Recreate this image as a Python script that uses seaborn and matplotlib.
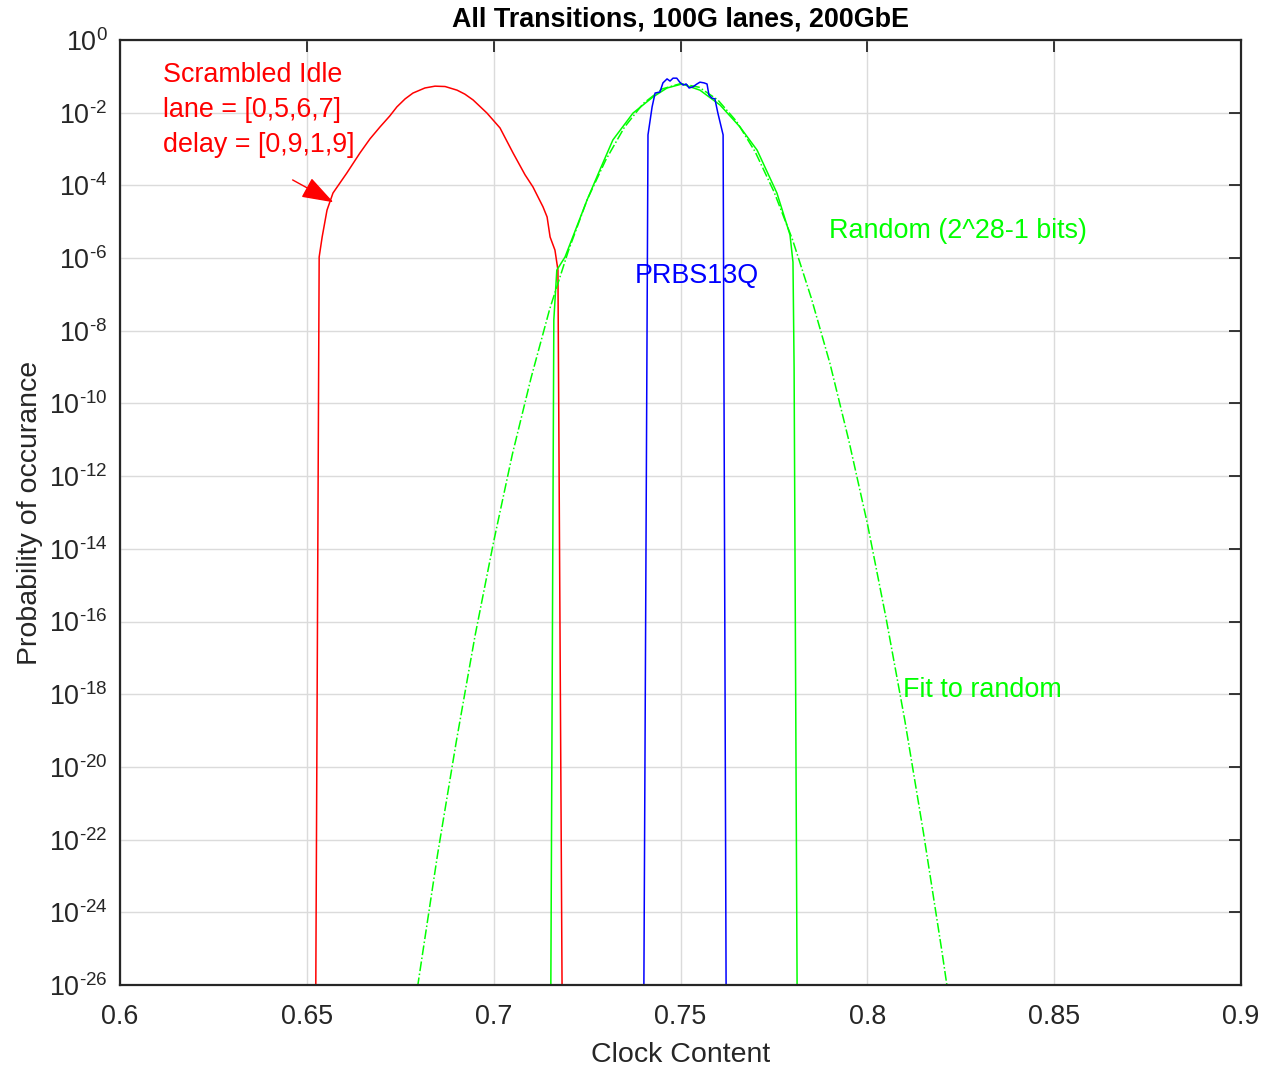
import numpy as np
import pandas as pd
import matplotlib
matplotlib.use("Agg")
import matplotlib.pyplot as plt
from matplotlib.ticker import FixedLocator, FixedFormatter, FuncFormatter, NullLocator
import seaborn as sns

# ---- data: clock content vs. log10(probability of occurance) ----
idle_x = [0.6524, 0.6533, 0.6541, 0.6554, 0.6570, 0.6607, 0.6642, 0.6669, 0.6696,
          0.6722, 0.6741, 0.6763, 0.6784, 0.6816, 0.6843, 0.6870, 0.6902, 0.6923,
          0.6945, 0.6982, 0.7017, 0.7052, 0.7084, 0.7105, 0.7132, 0.7143, 0.7151,
          0.7164, 0.7172, 0.7183]
idle_log_p = [-26.0, -5.97, -5.42, -4.68, -4.21, -3.66, -3.11, -2.72, -2.39,
              -2.09, -1.84, -1.62, -1.46, -1.32, -1.27, -1.28, -1.38, -1.49,
              -1.65, -2.01, -2.42, -3.11, -3.71, -4.04, -4.59, -4.87, -5.42,
              -5.78, -6.33, -26.0]

prbs_x = [0.7402, 0.7413, 0.7424, 0.7432, 0.7445, 0.7453, 0.7464, 0.7472, 0.7480,
          0.7490, 0.7498, 0.7507, 0.7515, 0.7523, 0.7533, 0.7544, 0.7552, 0.7563,
          0.7571, 0.7576, 0.7584, 0.7592, 0.7600, 0.7614, 0.7622]
prbs_log_p = [-26.0, -2.61, -1.84, -1.46, -1.43, -1.18, -1.07, -1.13, -1.05,
              -1.05, -1.16, -1.24, -1.21, -1.32, -1.29, -1.21, -1.16, -1.18,
              -1.21, -1.51, -1.60, -1.62, -2.01, -2.61, -26.0]

random_x = [0.7153, 0.7161, 0.7169, 0.7191, 0.7250, 0.7284, 0.7319, 0.7373, 0.7426,
            0.7464, 0.7504, 0.7552, 0.7606, 0.7659, 0.7705, 0.7758, 0.7793, 0.7801,
            0.7804, 0.7812]
random_log_p = [-26.0, -7.70, -6.33, -5.97, -4.40, -3.58, -2.75, -2.01, -1.57,
                -1.32, -1.21, -1.38, -1.79, -2.39, -3.03, -4.21, -5.36, -6.11,
                -9.00, -26.0]

fit_x = [0.679, 0.680, 0.685, 0.690, 0.695, 0.700, 0.705, 0.710, 0.715, 0.720,
         0.725, 0.730, 0.735, 0.740, 0.745, 0.750, 0.755, 0.760, 0.765, 0.770,
         0.775, 0.780, 0.785, 0.790, 0.795, 0.800, 0.805, 0.810, 0.815, 0.820,
         0.822]
fit_log_p = [-26.5, -25.8, -22.4, -19.3, -16.4, -13.8, -11.4, -9.3, -7.4, -5.8,
             -4.4, -3.3, -2.4, -1.75, -1.35, -1.2, -1.3, -1.65, -2.24, -3.08,
             -4.17, -5.5, -7.1, -8.9, -11.0, -13.3, -15.9, -18.7, -21.8, -25.1,
             -26.5]

x_ticks = [0.6, 0.65, 0.7, 0.75, 0.8, 0.85, 0.9]
x_tick_labels = ["0.6", "0.65", "0.7", "0.75", "0.8", "0.85", "0.9"]
y_tick_exponents = list(range(-26, 1, 2))

# ---- style ----
sns.set_theme(style="white")
plt.rcParams["font.family"] = ["Liberation Sans", "DejaVu Sans"]
plt.rcParams["mathtext.fontset"] = "custom"
plt.rcParams["mathtext.rm"] = "Liberation Sans"
plt.rcParams["mathtext.it"] = "Liberation Sans:italic"
plt.rcParams["mathtext.bf"] = "Liberation Sans:bold"

DARK = "0.15"
fig = plt.figure(figsize=(12.62, 10.66), dpi=100)
ax = fig.add_axes([120 / 1262, 81 / 1066, 1121 / 1262, 945 / 1066])


def draw(xs, logp, color, ls="-"):
    df = pd.DataFrame({"clock": xs, "prob": np.power(10.0, logp)})
    sns.lineplot(data=df, x="clock", y="prob", ax=ax, color=color, lw=1.1,
                 linestyle=ls, estimator=None, sort=False)


draw(idle_x, idle_log_p, "#ff0000")
draw(random_x, random_log_p, "#00ff00")
draw(fit_x, fit_log_p, "#00ff00", ls="-.")
draw(prbs_x, prbs_log_p, "#0000ff")

ax.set_yscale("log")
ax.set_xlim(0.6, 0.9)
ax.set_ylim(1e-26, 1.0)


def pow10_label(v, pos):
    e = int(round(np.log10(v)))
    exp = r"\text{-}%d" % -e if e < 0 else "%d" % e
    return r"$\mathdefault{10^{%s}}$" % exp


ax.xaxis.set_major_locator(FixedLocator(x_ticks))
ax.xaxis.set_major_formatter(FixedFormatter(x_tick_labels))
ax.yaxis.set_major_locator(FixedLocator([10.0 ** e for e in y_tick_exponents]))
ax.yaxis.set_major_formatter(FuncFormatter(pow10_label))
ax.yaxis.set_minor_locator(NullLocator())
ax.xaxis.set_minor_locator(NullLocator())

ax.grid(True, color="0.86", lw=1.0)
ax.set_axisbelow(True)
for s in ax.spines.values():
    s.set_color(DARK)
    s.set_linewidth(1.6)
ax.tick_params(axis="both", direction="in", length=8.6, width=1.3, color=DARK,
               labelcolor=DARK, labelsize=19.4, top=True, right=True)
ax.tick_params(axis="x", pad=14)
ax.tick_params(axis="y", pad=9)

ax.set_xlabel("Clock Content", fontsize=20.5, color=DARK, labelpad=8)
ax.set_ylabel("Probability of occurance", fontsize=20.5, color=DARK, labelpad=4)
ax.set_title("All Transitions, 100G lanes, 200GbE", fontsize=19.4,
             fontweight="bold", color="black", pad=10)

# ---- annotations ----
txt = dict(fontsize=19.4, va="baseline", ha="left")
ax.text(0.6116, 10 ** -1.155, "Scrambled Idle", color="#ff0000", **txt)
ax.text(0.6116, 10 ** -2.118, "lane = [0,5,6,7]", color="#ff0000", **txt)
ax.text(0.6116, 10 ** -3.081, "delay = [0,9,1,9]", color="#ff0000", **txt)
ax.text(0.7378, 10 ** -6.685, "PRBS13Q", color="#0000ff", **txt)
ax.text(0.7897, 10 ** -5.447, "Random (2^28-1 bits)", color="#00ff00", **txt)
ax.text(0.8095, 10 ** -18.07, "Fit to random", color="#00ff00", **txt)

ax.annotate("", xy=(0.6571, 10 ** -4.465), xytext=(0.6462, 10 ** -3.85),
            arrowprops=dict(arrowstyle="-|>,head_length=1.1,head_width=0.38",
                            color="#ff0000", lw=1.0, mutation_scale=18,
                            shrinkA=0, shrinkB=0))

fig.savefig("out.png", dpi=100)
